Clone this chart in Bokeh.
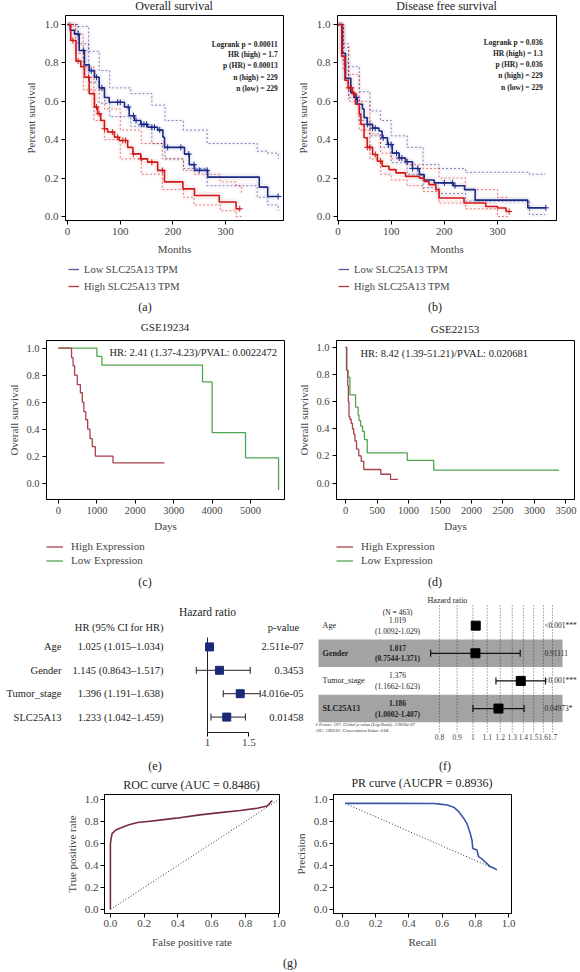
import numpy as np
from bokeh.plotting import figure
from bokeh.layouts import column, row
from bokeh.models import Legend, LegendItem, Div, CustomJSTickFormatter, ColumnDataSource
from bokeh.core.properties import value, field
from bokeh.embed import file_html
from bokeh.resources import INLINE

SERIF = "Liberation Serif"

# ---------------- data: (a) overall survival ----------------
a_low_t = [0, 5, 13, 22, 32, 41, 51, 60, 70, 79, 108, 117, 127, 139, 152, 171, 181, 184, 222, 231, 241, 266, 364, 380, 400]
a_low_s = [1.0, 0.97, 0.95, 0.865, 0.79, 0.76, 0.725, 0.67, 0.62, 0.595, 0.57, 0.525, 0.5, 0.48, 0.465, 0.45, 0.413, 0.36, 0.325, 0.27, 0.24, 0.205, 0.153, 0.104, 0.104]
a_high_t = [0, 6, 16, 25, 32, 41, 51, 57, 63, 70, 76, 89, 98, 114, 124, 139, 152, 171, 184, 219, 241, 288, 320, 327]
a_high_s = [1.0, 0.917, 0.81, 0.78, 0.725, 0.64, 0.57, 0.535, 0.5, 0.457, 0.44, 0.413, 0.396, 0.36, 0.326, 0.30, 0.283, 0.24, 0.18, 0.144, 0.109, 0.075, 0.04, 0.04]
a_low_band_t = [0, 20, 40, 60, 80, 120, 160, 185, 220, 265, 360, 380, 400]
a_low_up = [1.0, 0.99, 0.86, 0.76, 0.67, 0.64, 0.58, 0.5, 0.45, 0.38, 0.34, 0.33, 0.3]
a_low_lo = [1.0, 0.9, 0.7, 0.59, 0.52, 0.47, 0.38, 0.3, 0.25, 0.16, 0.1, 0.06, 0.03]
a_high_band_t = [0, 15, 30, 50, 70, 100, 140, 180, 220, 240, 290, 320, 330]
a_high_up = [1.0, 0.95, 0.78, 0.66, 0.56, 0.45, 0.38, 0.3, 0.24, 0.22, 0.18, 0.16, 0.12]
a_high_lo = [1.0, 0.85, 0.66, 0.5, 0.4, 0.3, 0.22, 0.14, 0.1, 0.06, 0.03, 0.0, 0.0]
a_low_cens = [20, 30, 45, 55, 65, 95, 100, 115, 125, 130, 140, 145, 150, 160, 165, 175, 190, 215, 230, 240, 250, 265, 400]
a_high_cens = [10, 20, 40, 55, 60, 70, 85, 95, 105, 110, 125, 140, 160, 180, 327]
a_stats = ["Logrank p = 0.00011", "HR (high) = 1.7", "p (HR) = 0.00013", "n (high) = 229", "n (low) = 229"]

# ---------------- data: (b) disease free survival ----------------
b_low_t = [0, 8, 14, 24, 30, 36, 46, 49, 55, 65, 77, 83, 93, 102, 115, 127, 140, 153, 162, 181, 217, 238, 258, 357, 391]
b_low_s = [1.0, 0.85, 0.72, 0.645, 0.62, 0.585, 0.56, 0.515, 0.48, 0.46, 0.445, 0.41, 0.375, 0.33, 0.305, 0.285, 0.25, 0.218, 0.19, 0.175, 0.16, 0.14, 0.085, 0.045, 0.045]
b_high_t = [0, 7, 13, 19, 27, 33, 40, 43, 49, 55, 65, 74, 83, 96, 109, 127, 153, 162, 171, 184, 190, 237, 278, 300, 316, 322]
b_high_s = [1.0, 0.834, 0.71, 0.67, 0.64, 0.585, 0.533, 0.48, 0.41, 0.36, 0.323, 0.288, 0.262, 0.244, 0.227, 0.209, 0.2, 0.183, 0.166, 0.14, 0.096, 0.07, 0.052, 0.044, 0.026, 0.026]
b_low_band_t = [0, 10, 20, 40, 60, 80, 100, 130, 160, 190, 240, 360, 390]
b_low_up = [1.0, 0.9, 0.78, 0.65, 0.55, 0.5, 0.42, 0.36, 0.27, 0.25, 0.23, 0.22, 0.22]
b_low_lo = [1.0, 0.8, 0.62, 0.5, 0.42, 0.36, 0.28, 0.22, 0.15, 0.12, 0.08, 0.01, 0.01]
b_high_band_t = [0, 10, 20, 40, 60, 80, 100, 130, 160, 190, 240, 300, 320]
b_high_up = [1.0, 0.88, 0.74, 0.6, 0.43, 0.33, 0.3, 0.27, 0.25, 0.2, 0.14, 0.1, 0.1]
b_high_lo = [1.0, 0.76, 0.6, 0.45, 0.3, 0.22, 0.19, 0.16, 0.13, 0.07, 0.04, 0.0, 0.0]
b_low_cens = [35, 55, 65, 70, 85, 95, 100, 110, 115, 120, 130, 140, 150, 200, 215, 220, 391]
b_high_cens = [20, 25, 30, 55, 60, 70, 80, 322]
b_stats = ["Logrank p = 0.036", "HR (high) = 1.3", "p (HR) = 0.036", "n (high) = 229", "n (low) = 229"]

# ---------------- data: (c) GSE19234 ----------------
c_high_t = [0, 340, 380, 420, 490, 570, 620, 660, 710, 760, 820, 880, 960, 1420, 2760]
c_high_s = [1.0, 0.93, 0.87, 0.8, 0.73, 0.67, 0.6, 0.53, 0.47, 0.4, 0.33, 0.27, 0.2, 0.15, 0.15]
c_low_t = [0, 1000, 1130, 3750, 4000, 4870, 5730]
c_low_s = [1.0, 0.94, 0.875, 0.75, 0.375, 0.1875, -0.05]

# ---------------- data: (d) GSE22153 ----------------
d_high_t = [0, 20, 35, 45, 55, 70, 90, 110, 130, 150, 175, 210, 250, 290, 560, 715, 830]
d_high_s = [1.0, 0.83, 0.72, 0.6, 0.49, 0.47, 0.44, 0.4, 0.36, 0.31, 0.25, 0.2, 0.16, 0.1, 0.065, 0.027, 0.027]
d_low_t = [0, 15, 40, 70, 160, 200, 215, 240, 270, 300, 345, 980, 1400, 3390]
d_low_s = [1.0, 0.83, 0.78, 0.65, 0.56, 0.5, 0.46, 0.42, 0.38, 0.32, 0.222, 0.167, 0.095, 0.095]

# ---------------- data: (e) forest ----------------
e_vars = ["Age", "Gender", "Tumor_stage", "SLC25A13"]
e_hr = [1.025, 1.145, 1.396, 1.233]
e_lo = [1.015, 0.8643, 1.191, 1.042]
e_hi = [1.034, 1.517, 1.638, 1.459]
e_pval = ["2.511e-07", "0.3453", "4.016e-05", "0.01458"]
e_row = [4, 3, 2, 1]

# ---------------- data: (f) ggforest ----------------
f_vars = ["Age", "Gender", "Tumor_stage", "SLC25A13"]
f_hr = [1.019, 1.017, 1.376, 1.186]
f_lo = [1.0092, 0.7544, 1.1662, 1.0002]
f_hi = [1.029, 1.371, 1.623, 1.407]
f_p = ["<0.001***", "0.91111", "<0.001***", "0.04973*"]
f_shade = [False, True, False, True]
f_row = [4, 3, 2, 1]
f_ticks = [0.8, 0.9, 1, 1.1, 1.2, 1.3, 1.4, 1.5, 1.6, 1.7]

# ---------------- data: (g) ROC / PR ----------------
roc_fpr = [0, 0, 0.005, 0.01, 0.03, 0.06, 0.11, 0.16, 0.22, 0.28, 0.39, 0.53, 0.65, 0.77, 0.87, 0.93, 0.96]
roc_tpr = [0, 0.6, 0.65, 0.69, 0.72, 0.74, 0.77, 0.79, 0.8, 0.81, 0.83, 0.86, 0.88, 0.9, 0.92, 0.94, 0.99]
pr_rec = [0.016, 0.29, 0.55, 0.6, 0.63, 0.67, 0.70, 0.73, 0.75, 0.77, 0.78, 0.785, 0.81, 0.82, 0.84, 0.86, 0.89, 0.92, 0.93]
pr_prec = [0.964, 0.964, 0.963, 0.955, 0.95, 0.93, 0.89, 0.83, 0.78, 0.69, 0.63, 0.555, 0.54, 0.48, 0.46, 0.43, 0.39, 0.37, 0.36]

BLUE = "#1c2a86"
RED = "#d01818"
KRED = "#a8414b"
KGREEN = "#4fa64f"
tf = value(SERIF)
FIX1 = "return tick.toFixed(1)"


def step_at(ts, ss, tc):
    ts = np.asarray(ts, dtype=float)
    ss = np.asarray(ss, dtype=float)
    idx = np.searchsorted(ts, np.asarray(tc, dtype=float), side="right") - 1
    return ss[np.clip(idx, 0, len(ss) - 1)]


def style(p, tick_size="11px", label_size="11px", lstand=3, astand=5):
    for ax in p.axis:
        ax.major_label_text_font = SERIF
        ax.major_label_text_font_size = tick_size
        ax.axis_label_text_font = SERIF
        ax.axis_label_text_font_size = label_size
        ax.axis_label_text_font_style = "normal"
        ax.minor_tick_line_color = None
        ax.major_tick_in = 0
        ax.major_tick_out = 4
        ax.axis_line_color = "black"
        ax.major_tick_line_color = "black"
        ax.major_label_standoff = lstand
        ax.axis_label_standoff = astand
    p.xgrid.visible = False
    p.ygrid.visible = False
    p.outline_line_color = "black"
    p.outline_line_alpha = 1


def div(txt, w, h, lh, fsize="12px"):
    return Div(text=txt, width=w, height=h, margin=(0, 0, 0, 0),
               styles={"font-family": SERIF, "font-size": fsize, "text-align": "center",
                       "line-height": f"{lh}px", "color": "#222", "white-space": "nowrap"})


def title_row(specs, h, fsize):
    return row(*[div(t, w, h, lh, fsize) for t, w, lh in specs])


def legend_fig(width, height, specs, loc, fsize, gw, gh, spacing, standoff, lw):
    p = figure(width=width, height=height, x_range=(0, 1), y_range=(0, 1), title=None,
               output_backend="svg", toolbar_location=None,
               x_axis_location=None, y_axis_location=None, min_border=0)
    p.xgrid.visible = False
    p.ygrid.visible = False
    p.outline_line_color = None
    items = []
    for lab_txt, col in specs:
        # legend-only renderer: its data lie outside the visible range
        r = p.line(x=[-5, -4], y=[-5, -5], line_color=col, line_width=lw)
        items.append(LegendItem(label=lab_txt, renderers=[r]))
    leg = Legend(items=items, location=loc, orientation="vertical",
                 glyph_width=gw, glyph_height=gh, label_height=gh,
                 label_text_font=SERIF, label_text_font_size=fsize,
                 spacing=spacing, padding=0, margin=0, label_standoff=standoff,
                 border_line_alpha=0, background_fill_alpha=0)
    p.add_layout(leg)
    return p


def km_gepia(low_t, low_s, high_t, high_s, bands, low_c, high_c, stats, stat_x, stat_y,
             x_range, mbl, mbr):
    p = figure(width=290, height=246, x_range=x_range, y_range=(-0.021, 1.047), title=None,
               output_backend="svg", toolbar_location=None,
               min_border_left=mbl, min_border_right=mbr, min_border_top=0, min_border_bottom=41)
    style(p)
    p.xaxis.ticker = [0, 100, 200, 300]
    p.yaxis.ticker = [0, 0.2, 0.4, 0.6, 0.8, 1.0]
    p.yaxis.formatter = CustomJSTickFormatter(code=FIX1)
    p.xaxis.axis_label = "Months"
    p.yaxis.axis_label = "Percent survival"
    for bt, bs, c in bands:
        p.step(bt, bs, mode="after", line_color=c, line_width=5, line_alpha=0.03)
        p.step(bt, bs, mode="after", line_color=c, line_dash="2 2", line_width=0.8, line_alpha=0.7)
    p.step(low_t, low_s, mode="after", line_color=BLUE, line_width=7, line_alpha=0.06)
    p.step(high_t, high_s, mode="after", line_color=RED, line_width=7, line_alpha=0.06)
    p.step(low_t, low_s, mode="after", line_color=BLUE, line_width=1.6)
    p.step(high_t, high_s, mode="after", line_color=RED, line_width=1.6)
    p.scatter(x=low_c, y=step_at(low_t, low_s, low_c), marker="cross", size=6, line_color=BLUE, line_width=1)
    p.scatter(x=high_c, y=step_at(high_t, high_s, high_c), marker="cross", size=6, line_color=RED, line_width=1)
    p.text(x=[stat_x] * len(stats), y=stat_y, text=stats, text_align="right", text_baseline="middle",
           text_font=tf, text_font_size="7.5px", text_font_style="bold", text_color="#222")
    return p


pa = km_gepia(a_low_t, a_low_s, a_high_t, a_high_s,
              [(a_low_band_t, a_low_up, BLUE), (a_low_band_t, a_low_lo, BLUE),
               (a_high_band_t, a_high_up, RED), (a_high_band_t, a_high_lo, RED)],
              a_low_cens, a_high_cens, a_stats, 399, [0.896, 0.844, 0.786, 0.726, 0.667],
              (-4, 410), 65, 7)
pb = km_gepia(b_low_t, b_low_s, b_high_t, b_high_s,
              [(b_low_band_t, b_low_up, BLUE), (b_low_band_t, b_low_lo, BLUE),
               (b_high_band_t, b_high_up, RED), (b_high_band_t, b_high_lo, RED)],
              b_low_cens, b_high_cens, b_stats, 385, [0.906, 0.849, 0.792, 0.734, 0.672],
              (-1, 411), 47, 24)
gepia_specs = [("Low SLC25A13 TPM", "#5a5aa0"), ("High SLC25A13 TPM", "#b03a3a")]
la = legend_fig(290, 36, gepia_specs, (68, 5), "10.5px", 11, 12, 5, 5, 1.3)
lb = legend_fig(290, 36, gepia_specs, (48, 5), "10.5px", 11, 12, 5, 5, 1.3)


def km_geo(high_t, high_s, low_t, low_s, x_range, y_range, ticks, hr_text, hr_x, hr_y,
           mbl, mbr, mbt, mbb):
    p = figure(width=290, height=203, x_range=x_range, y_range=y_range, title=None,
               output_backend="svg", toolbar_location=None,
               min_border_left=mbl, min_border_right=mbr, min_border_top=mbt, min_border_bottom=mbb)
    style(p, tick_size="10.5px", label_size="11px", lstand=3, astand=3)
    p.xaxis.ticker = ticks
    p.yaxis.ticker = [0, 0.2, 0.4, 0.6, 0.8, 1.0]
    p.yaxis.formatter = CustomJSTickFormatter(code=FIX1)
    p.xaxis.axis_label = "Days"
    p.yaxis.axis_label = "Overall survival"
    p.step(low_t, low_s, mode="after", line_color=KGREEN, line_width=1.3)
    p.step(high_t, high_s, mode="after", line_color=KRED, line_width=1.3)
    p.text(x=[hr_x], y=[hr_y], text=[hr_text], text_align="left", text_baseline="middle",
           text_font=tf, text_font_size="10.5px", text_color="#222")
    return p


pc = km_geo(c_high_t, c_high_s, c_low_t, c_low_s, (-312, 5885), (-0.121, 1.057),
            [0, 1000, 2000, 3000, 4000, 5000], "HR: 2.41 (1.37-4.23)/PVAL: 0.0022472", 1328, 0.971,
            46, 6, 0, 38)
pd_ = km_geo(d_high_t, d_high_s, d_low_t, d_low_s, (-143, 3635), (-0.121, 1.05),
             [0, 500, 1000, 1500, 2000, 2500, 3000, 3500], "HR: 8.42 (1.39-51.21)/PVAL: 0.020681", 238, 0.957,
             46, 6, 6, 34)
geo_specs = [("High Expression", KRED), ("Low Expression", KGREEN)]
lc = legend_fig(290, 29, geo_specs, (46, 0), "11px", 17, 11, 2, 8, 1.3)
ld = legend_fig(290, 29, geo_specs, (46, 0), "11px", 17, 11, 2, 8, 1.3)

# ---------------- (e) forest plot ----------------
pe = figure(width=310, height=163, x_range=(-1.506, 2.247), y_range=(0.342, 6.325), title=None,
            output_backend="svg", toolbar_location=None, y_axis_location=None,
            min_border_left=0, min_border_right=0, min_border_top=0, min_border_bottom=23)
pe.xgrid.visible = False
pe.ygrid.visible = False
pe.outline_line_color = None
pe.xaxis.ticker = [1, 1.5]
pe.xaxis.bounds = (1, 1.5)
pe.xaxis.formatter = CustomJSTickFormatter(code="return tick.toString()")
pe.xaxis.major_label_text_font = SERIF
pe.xaxis.major_label_text_font_size = "11px"
pe.xaxis.minor_tick_line_color = None
pe.xaxis.major_tick_in = 0
pe.xaxis.major_tick_out = 4
pe.xaxis.major_label_standoff = 2
pe.xaxis.axis_line_color = "#222"
pe.segment(x0=[1], y0=[0.342], x1=[1], y1=[4.4], line_color="#222", line_width=1)
pe.segment(x0=e_lo, y0=e_row, x1=e_hi, y1=e_row, line_color="#222", line_width=1)
pe.scatter(x=e_lo + e_hi, y=e_row + e_row, marker="dash", angle=np.pi / 2, size=7, line_color="#222", line_width=1)
pe.scatter(x=e_hr, y=e_row, marker="square", size=8, fill_color="#1b2a78", line_color="#1b2a78")
pe.text(x=[-0.768] * 4, y=e_row, text=e_vars, text_align="right", text_baseline="middle",
        text_font=tf, text_font_size="10.5px", text_color="#222")
e_hrtxt = [f"{h} ({l}\u2013{u})" for h, l, u in zip(e_hr, e_lo, e_hi)]
pe.text(x=[0.467] * 4, y=e_row, text=e_hrtxt, text_align="right", text_baseline="middle",
        text_font=tf, text_font_size="10.5px", text_color="#222")
pe.text(x=[2.162] * 4, y=e_row, text=e_pval, text_align="right", text_baseline="middle",
        text_font=tf, text_font_size="10.5px", text_color="#222")
pe.text(x=[0.467], y=[4.83], text=["HR (95% CI for HR)"], text_align="right", text_baseline="middle",
        text_font=tf, text_font_size="10.5px", text_color="#222")
pe.text(x=[1.92], y=[4.83], text=["p-value"], text_align="center", text_baseline="middle",
        text_font=tf, text_font_size="10.5px", text_color="#222")
pe.text(x=[1.0], y=[5.51], text=["Hazard ratio"], text_align="center", text_baseline="middle",
        text_font=tf, text_font_size="11.5px", text_color="#222")

# ---------------- (f) ggforest ----------------
pf = figure(width=270, height=163, x_axis_type="log", x_range=(0.3385, 2.0497), y_range=(0.133, 5.2),
            title=None, output_backend="svg", toolbar_location=None, y_axis_location=None,
            min_border_left=0, min_border_right=0, min_border_top=0, min_border_bottom=11)
pf.xgrid.visible = False
pf.ygrid.visible = False
pf.outline_line_color = None
pf.xaxis.ticker = f_ticks
pf.xaxis.formatter = CustomJSTickFormatter(code="return tick.toFixed(1).replace(/\\.0$/, '')")
pf.xaxis.major_label_text_font = SERIF
pf.xaxis.major_label_text_font_size = "7.5px"
pf.xaxis.minor_tick_line_color = None
pf.xaxis.major_tick_line_color = None
pf.xaxis.axis_line_color = None
pf.xaxis.major_tick_in = 0
pf.xaxis.major_tick_out = 0
pf.xaxis.major_label_standoff = 1
shade_rows = [r for r, s in zip(f_row, f_shade) if s]
pf.hbar(y=shade_rows, left=0.357, right=1.818, height=1.0, fill_color="#a3a3a3", line_color=None)
pf.segment(x0=f_ticks, y0=[0.133] * len(f_ticks), x1=f_ticks, y1=[4.77] * len(f_ticks),
           line_color="#333", line_dash="1 2", line_width=0.8)
pf.segment(x0=f_lo, y0=f_row, x1=f_hi, y1=f_row, line_color="#111", line_width=1.2)
pf.scatter(x=f_lo + f_hi, y=f_row + f_row, marker="dash", angle=np.pi / 2, size=7, line_color="#111", line_width=1.2)
pf.scatter(x=f_hr, y=f_row, marker="square", size=9, fill_color="black", line_color="black")
fsrc = ColumnDataSource(dict(
    row=f_row,
    row_hr=[r + 0.2 for r in f_row],
    row_ci=[r - 0.2 for r in f_row],
    var=f_vars,
    hr=[str(h) for h in f_hr],
    ci=[f"({l}-{u})" for l, u in zip(f_lo, f_hi)],
    p=f_p,
    fstyle=["bold" if s else "normal" for s in f_shade],
    lx=[0.367] * 4, cx=[0.605] * 4, px=[1.611] * 4,
))
pf.text(x="lx", y="row", text="var", source=fsrc, text_align="left", text_baseline="middle",
        text_font=tf, text_font_size="8px", text_font_style=field("fstyle"), text_color="#222")
pf.text(x="cx", y="row_hr", text="hr", source=fsrc, text_align="center", text_baseline="middle",
        text_font=tf, text_font_size="7.5px", text_font_style=field("fstyle"), text_color="#222")
pf.text(x="cx", y="row_ci", text="ci", source=fsrc, text_align="center", text_baseline="middle",
        text_font=tf, text_font_size="7.5px", text_font_style=field("fstyle"), text_color="#222")
pf.text(x="px", y="row", text="p", source=fsrc, text_align="left", text_baseline="middle",
        text_font=tf, text_font_size="7.5px", text_color="#222")
pf.text(x=[0.844], y=[4.9], text=["Hazard ratio"], text_align="center", text_baseline="middle",
        text_font=tf, text_font_size="8px", text_color="#222")
pf.text(x=[0.605], y=[4.47], text=["(N = 463)"], text_align="center", text_baseline="middle",
        text_font=tf, text_font_size="7.5px", text_color="#222")
pf.text(x=[0.35, 0.35], y=[0.43, 0.2],
        text=["# Events: 197; Global p-value (Log-Rank): 2.9026e-07", "AIC: 1969.02; Concordance Index: 0.64"],
        text_align="left", text_baseline="middle", text_font=tf, text_font_size="4.5px",
        text_font_style="italic", text_color="#333")

# ---------------- (g) ROC / PR ----------------
pg1 = figure(width=290, height=161, x_range=(-0.035, 1.003), y_range=(-0.036, 1.045), title=None,
             output_backend="svg", toolbar_location=None,
             min_border_left=104, min_border_right=11, min_border_top=0, min_border_bottom=42)
style(pg1, lstand=2, astand=6)
pg1.xaxis.ticker = [0, 0.2, 0.4, 0.6, 0.8, 1.0]
pg1.yaxis.ticker = [0, 0.2, 0.4, 0.6, 0.8, 1.0]
pg1.xaxis.formatter = CustomJSTickFormatter(code=FIX1)
pg1.yaxis.formatter = CustomJSTickFormatter(code=FIX1)
pg1.yaxis.axis_label_standoff = 4
pg1.xaxis.axis_label = "False positive rate"
pg1.yaxis.axis_label = "True positive rate"
pg1.line(x=[0, 1], y=[0, 1], line_color="#333", line_dash="1 2", line_width=1)
pg1.line(x=roc_fpr, y=roc_tpr, line_color="#7a2c3c", line_width=1.6)

pg2 = figure(width=290, height=161, x_range=(-0.054, 1.018), y_range=(-0.036, 1.045), title=None,
             output_backend="svg", toolbar_location=None,
             min_border_left=43, min_border_right=69, min_border_top=0, min_border_bottom=42)
style(pg2, lstand=2, astand=6)
pg2.xaxis.ticker = [0, 0.2, 0.4, 0.6, 0.8, 1.0]
pg2.yaxis.ticker = [0, 0.2, 0.4, 0.6, 0.8, 1.0]
pg2.xaxis.formatter = CustomJSTickFormatter(code=FIX1)
pg2.yaxis.formatter = CustomJSTickFormatter(code=FIX1)
pg2.yaxis.axis_label_standoff = 4
pg2.xaxis.axis_label = "Recall"
pg2.yaxis.axis_label = "Precision"
pg2.line(x=[pr_rec[0], pr_rec[-1]], y=[pr_prec[0], pr_prec[-1]], line_color="#333", line_dash="1 2", line_width=1)
pg2.line(x=pr_rec, y=pr_prec, line_color="#3a56a8", line_width=1.6)

layout = column(
    title_row([("", 65, 12), ("Overall survival", 218, 12), ("", 7, 12),
               ("", 47, 12), ("Disease free survival", 219, 12), ("", 24, 12)], 15, "12px"),
    row(pa, pb),
    row(la, lb),
    row(div("(a)", 290, 21, 21), div("(b)", 290, 21, 21)),
    title_row([("", 46, 18), ("GSE19234", 238, 18), ("", 6, 18),
               ("", 46, 22), ("GSE22153", 238, 22), ("", 6, 22)], 16, "11px"),
    row(pc, pd_),
    row(lc, ld),
    row(div("(c)", 290, 26, 32), div("(d)", 290, 26, 32)),
    row(pe, pf),
    row(div("(e)", 310, 20, 22), div("(f)", 270, 20, 22)),
    title_row([("", 104, 20), ("ROC curve (AUC = 0.8486)", 175, 20), ("", 11, 20),
               ("", 43, 16), ("PR curve (AUCPR = 0.8936)", 178, 16), ("", 69, 16)], 19, "12px"),
    row(pg1, pg2),
    div("(g)", 580, 17, 17),
)

open("out.html", "w").write(file_html(layout, INLINE))
